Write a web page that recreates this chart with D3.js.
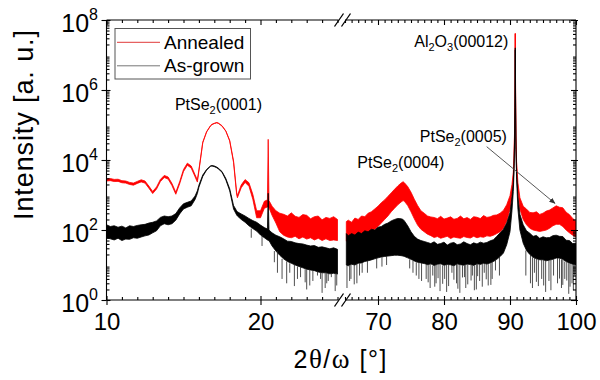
<!DOCTYPE html>
<html>
<head>
<meta charset="utf-8">
<script src="https://cdn.jsdelivr.net/npm/d3@7"></script>
<style>
  html, body { margin: 0; padding: 0; background: #fff; }
  svg { display: block; }
  text { font-family: "Liberation Sans", Arial, sans-serif; fill: #000; }
</style>
</head>
<body>
<svg id="chart" width="600" height="380"></svg>
<script>
// 2θ/ω scan positions (degrees); low-angle window 10–25°, high-angle window 65–100°
const twoTheta = [
  10.00, 10.25, 10.50, 10.75, 11.00, 11.25, 11.50, 11.75, 12.00, 12.25, 12.50, 12.75,
  13.00, 13.25, 13.50, 13.75, 14.00, 14.25, 14.50, 14.75, 15.00, 15.25, 15.50, 15.75,
  15.90, 16.00, 16.25, 16.50, 16.75, 16.85, 17.00, 17.15, 17.25, 17.50, 17.75, 18.00,
  18.25, 18.45, 18.50, 18.75, 19.00, 19.25, 19.50, 19.75, 20.00, 20.25, 20.45, 20.50,
  20.55, 20.75, 21.00, 21.25, 21.50, 21.75, 22.00, 22.25, 22.50, 22.75, 23.00, 23.25,
  23.50, 23.75, 24.00, 24.25, 24.50, 24.75, 25.00,
  65.2, 65.5, 66.0, 66.5, 67.0, 67.5, 68.0, 68.5, 69.0, 69.5, 70.0, 70.5, 71.0, 71.5,
  72.0, 72.5, 73.0, 73.5, 73.8, 74.0, 74.5, 75.0, 75.5, 76.0, 76.5, 77.0, 77.5, 78.0,
  78.5, 79.0, 79.5, 80.0, 80.5, 81.0, 81.5, 82.0, 82.5, 83.0, 83.5, 84.0, 84.5, 85.0,
  85.5, 86.0, 86.5, 87.0, 87.5, 88.0, 88.5, 89.0, 89.5, 90.0, 90.3, 90.5, 90.6, 90.7,
  90.75, 90.8, 90.85, 90.9, 91.0, 91.2, 91.5, 92.0, 92.5, 93.0, 93.5, 94.0, 94.5, 95.0,
  95.5, 96.0, 96.5, 97.0, 97.5, 98.0, 98.5, 99.0, 99.5, 100.0
];

// Annealed film: upper and lower edge of the counting-noise band (counts)
const annealedUpper = [
  2880, 2950, 2790, 2820, 2570, 2510, 2290, 2190, 2450, 2720, 2510, 1800,
  1260, 1700, 2790, 3630, 3270, 2140, 1200, 2400, 5370, 8130, 6760, 3800,
  2690, 5250, 32400, 64600, 95500, 105000, 112000, 117500, 115000, 95500, 67600, 36300,
  9330, 1200, 955, 1950, 2750, 2240, 1050, 355, 355, 661, 724, 38900,
  692, 479, 355, 302, 281, 251, 309, 247, 229, 275, 263, 209,
  240, 251, 195, 229, 214, 240, 200,
  174, 191, 166, 219, 200, 251, 240, 302, 331, 398, 479, 603, 724, 912,
  1150, 1450, 1820, 2190, 2400, 2240, 1740, 1200, 759, 501, 355, 302, 251, 236,
  228, 211, 246, 205, 219, 238, 203, 214, 250, 209, 226, 201, 240, 231,
  212, 258, 229, 238, 262, 270, 302, 363, 525, 955, 2000, 4470, 11200, 79400,
  631000, 42000000, 631000, 50100, 8910, 2240, 832, 479, 395, 318, 309, 331, 279, 302,
  347, 372, 427, 490, 447, 432, 324, 275, 214, 178
];
const annealedLower = [
  2510, 2570, 2430, 2450, 2240, 2190, 2000, 1910, 2140, 2370, 2190, 1570,
  1100, 1480, 2430, 3160, 2850, 1860, 1050, 2090, 4680, 7080, 5890, 3310,
  2340, 4790, 30900, 63100, 93300, 102000, 110000, 115000, 112000, 93300, 66100, 34700,
  8510, 1050, 832, 1620, 2290, 1780, 759, 224, 224, 417, 457, 447,
  437, 263, 158, 89, 71, 63, 60, 66, 56, 63, 55, 60,
  52, 58, 50, 56, 50, 52, 50,
  48, 52, 52, 58, 60, 63, 69, 79, 89, 105, 126, 158, 200, 251,
  331, 417, 525, 631, 692, 661, 501, 331, 209, 138, 105, 89, 76, 69,
  61, 65, 58, 62, 66, 57, 63, 60, 58, 65, 61, 59, 66, 60,
  64, 62, 68, 66, 71, 79, 89, 112, 178, 398, 1000, 2820, 7940, 63100,
  562000, 40000000, 562000, 39800, 6310, 1260, 398, 200, 141, 112, 100, 95, 91, 95,
  100, 112, 132, 145, 145, 126, 100, 83, 71, 63
];

// As-grown film: upper and lower edge of the counting-noise band (counts)
const asGrownUpper = [
  141, 126, 132, 120, 129, 115, 132, 126, 135, 141, 145, 158,
  166, 182, 229, 251, 240, 251, 295, 427, 562, 617, 676, 933,
  1320, 1910, 3720, 5370, 6760, 6920, 6760, 6310, 5890, 4680, 2950, 1510,
  501, 355, 331, 288, 251, 214, 186, 166, 138, 117, 107, 1120,
  100, 83, 71, 64, 56, 48, 47, 43, 41, 40, 37, 35,
  36, 32, 33, 31, 29, 31, 28,
  79, 69, 79, 72, 87, 79, 95, 89, 105, 100, 120, 126, 145, 158,
  182, 200, 214, 209, 200, 182, 132, 89, 66, 55, 50, 47, 44, 41,
  46, 39, 41, 45, 37, 42, 44, 38, 40, 46, 41, 38, 43, 40,
  45, 42, 44, 49, 53, 66, 83, 105, 158, 316, 891, 2240, 6310, 39800,
  316000, 16000000, 316000, 25100, 4470, 891, 282, 141, 95, 81, 66, 70, 58, 64,
  60, 61, 69, 71, 66, 65, 51, 50, 41, 42
];
const asGrownLower = [
  60, 56, 52, 58, 50, 55, 54, 60, 58, 63, 68, 72,
  83, 95, 132, 151, 141, 151, 191, 288, 398, 447, 490, 741,
  1100, 1660, 3390, 5130, 6610, 6760, 6460, 6030, 5620, 4470, 2690, 1320,
  398, 269, 251, 200, 166, 132, 110, 93, 72, 60, 52, 50,
  50, 35, 25, 19, 15, 12.6, 11.2, 10, 9.1, 8.3, 7.6, 7.2,
  6.9, 6.3, 6.0, 6.0, 5.6, 5.8, 5.5,
  10, 9.5, 10.5, 10, 11.2, 11.5, 12.6, 13.2, 14, 15, 16, 17, 17.5, 18,
  18.5, 19, 19, 18.5, 18, 17.5, 16, 14.5, 13, 12, 11.5, 11, 10.2, 10.8,
  9.6, 10.5, 10.9, 9.8, 10.4, 10.1, 9.5, 10.8, 10.2, 9.9, 10.6, 10.3, 9.7, 10.9,
  10.4, 11.2, 10.6, 11.5, 12.6, 14.5, 17.4, 21.9, 38, 89, 355, 1260, 3980, 31600,
  251000, 14000000, 251000, 20000, 2820, 398, 100, 42, 26, 20, 16.6, 15.1, 14.1, 14.1,
  13.2, 13.8, 14.5, 15.8, 15.8, 14.5, 12.6, 11.5, 10.5, 10
];

// Deepest single-channel drops of the as-grown scan (angle, counts)
const asGrownDipAngle = [
  19.4, 20.1, 20.9, 21.1, 21.4, 21.7, 21.9, 22.2, 22.4, 22.6, 22.9, 23.0, 23.2, 23.4,
  23.7, 23.9, 24.0, 24.2, 24.3, 24.4, 24.6, 24.85, 24.95,
  65.3, 65.7, 65.9, 66.4, 66.8, 67.2, 67.6, 68.4, 69.8, 70.6, 71.3, 74.8, 75.3, 75.8,
  76.2, 76.6, 77.3, 77.6, 77.9, 78.3, 78.6, 78.8, 79.1, 79.4, 79.8, 80.1, 80.4, 80.7,
  81.2, 81.5, 81.9, 82.1, 82.4, 82.8, 83.1, 83.3, 83.6, 84.1, 84.3, 84.6, 84.9, 85.1,
  85.4, 85.8, 86.1, 86.4, 86.7, 87.1, 87.3, 87.8, 88.4,
  92.4, 93.1, 93.4, 93.7, 94.0, 94.3, 94.8, 95.1, 95.4, 95.9, 96.2, 96.6, 97.2, 97.5,
  97.8, 98.0, 98.3, 98.6, 98.9, 99.1, 99.4, 99.6, 99.8
];
const asGrownDipValue = [
  60, 35, 12, 6, 4, 3, 6, 2.5, 4, 4.5, 3.2, 2, 2.6, 3.5,
  5, 4, 1.6, 2.2, 3, 3.5, 4.5, 1.8, 2.6,
  2.2, 3.5, 4, 2.8, 3, 5, 6, 6, 8, 9, 10, 8, 6, 5,
  4, 3.5, 4, 3.2, 2.2, 5, 2.4, 3, 4.2, 1.8, 2.9, 4, 1.7, 2.5,
  6, 3.8, 3, 2.1, 1.6, 4.4, 4.5, 2.2, 2.8, 3.6, 5, 1.9, 2, 4.8,
  3.5, 2.4, 6, 3.9, 2.6, 2.7, 4, 7, 5,
  5, 3, 2.2, 6, 3.3, 2.5, 4, 2.6, 1.7, 3.5, 1.9, 5, 3, 4.1,
  2.2, 2.7, 4, 3.6, 1.5, 2.4, 3, 1.9, 5
];

const seriesNames = ["Annealed", "As-grown"];
const seriesColors = ["#ff0000", "#000000"];

const lowAngleTicks = [10, 20];
const highAngleTicks = [70, 80, 90, 100];
const intensityTicks = [1, 1e2, 1e4, 1e6, 1e8];

// Peak annotations: label parts [text, isSubscript], anchor angle and intensity
const peakLabels = [
  { parts: [["PtSe", 0], ["2", 1], ["(0001)", 0]], angle: 17.27, counts: 2.7e5, anchor: "middle" },
  { parts: [["PtSe", 0], ["2", 1], ["(0004)", 0]], angle: 73.45, counts: 5.9e3, anchor: "middle" },
  { parts: [["PtSe", 0], ["2", 1], ["(0005)", 0]], angle: 82.93, counts: 3.3e4, anchor: "middle" },
  { parts: [["Al", 0], ["2", 1], ["O", 0], ["3", 1], ["(00012)", 0]], angle: 89.75, counts: 1.7e7, anchor: "end" }
];
// Arrow from the (0005) label down to its weak reflection
const arrowFrom = { angle: 86.47, counts: 2.4e4 };
const arrowTo = { angle: 96.82, counts: 575 };

// ---------------------------------------------------------------------------
const svg = d3.select("#chart");
const plotTop = 20, plotBottom = 300, plotLeft = 106.5, plotRight = 576;

const xLow = d3.scaleLinear().domain([10, 25]).range([plotLeft, 337.5]);
const xHigh = d3.scaleLinear().domain([65, 100]).range([345, plotRight]);
const y = d3.scaleLog().domain([1, 1e8]).range([plotBottom, plotTop]);

const segments = [
  { scale: xLow, lo: 10, hi: 25, major: lowAngleTicks,
    minor: d3.range(11, 26).filter(v => v % 10 !== 0) },
  { scale: xHigh, lo: 65, hi: 100, major: highAngleTicks,
    minor: d3.range(65, 100).filter(v => v % 10 !== 0) }
];
const xOf = a => (a <= 25 ? xLow(a) : xHigh(a));

svg.append("defs").append("clipPath").attr("id", "plotClip")
  .append("rect").attr("x", plotLeft).attr("y", plotTop - 2)
  .attr("width", plotRight - plotLeft).attr("height", plotBottom - plotTop + 2);

const plot = svg.append("g").attr("clip-path", "url(#plotClip)");

const series = [
  { upper: annealedUpper, lower: annealedLower, color: seriesColors[0] },
  { upper: asGrownUpper, lower: asGrownLower, color: seriesColors[1] }
];

series.forEach(s => {
  segments.forEach(seg => {
    const idx = d3.range(twoTheta.length).filter(i => twoTheta[i] >= seg.lo && twoTheta[i] <= seg.hi);
    const band = d3.area()
      .x(i => seg.scale(twoTheta[i]))
      .y0(i => y(s.lower[i]))
      .y1(i => y(s.upper[i]));
    plot.append("path").datum(idx)
      .attr("d", band)
      .attr("fill", s.color)
      .attr("stroke", s.color)
      .attr("stroke-width", 0.8)
      .attr("stroke-linejoin", "round");
  });
});

// single-channel drops of the as-grown trace
const nearest = d3.bisector(d => d).center;
plot.append("g").selectAll("line")
  .data(d3.range(asGrownDipAngle.length))
  .join("line")
  .attr("x1", i => xOf(asGrownDipAngle[i]))
  .attr("x2", i => xOf(asGrownDipAngle[i]))
  .attr("y1", i => y(asGrownLower[nearest(twoTheta, asGrownDipAngle[i])]))
  .attr("y2", i => y(asGrownDipValue[i]))
  .attr("stroke", "#222")
  .attr("stroke-width", 0.8);

// ---------------------------------------------------------------------------
// Frame with axis break
const frame = svg.append("g").attr("stroke", "#000").attr("stroke-width", 1.1).attr("fill", "none");
frame.append("line").attr("x1", plotLeft).attr("x2", plotLeft).attr("y1", plotTop).attr("y2", plotBottom);
frame.append("line").attr("x1", plotRight).attr("x2", plotRight).attr("y1", plotTop).attr("y2", plotBottom);
[plotTop, plotBottom].forEach(yy => {
  frame.append("line").attr("x1", plotLeft).attr("x2", xLow.range()[1] + 1).attr("y1", yy).attr("y2", yy);
  frame.append("line").attr("x1", xHigh.range()[0]).attr("x2", plotRight).attr("y1", yy).attr("y2", yy);
  [339, 346].forEach(cx => {
    frame.append("line").attr("x1", cx - 4.5).attr("y1", yy + 6.5)
      .attr("x2", cx + 4.5).attr("y2", yy - 6.5).attr("stroke-width", 1.3);
  });
});

function styleAxis(g) {
  g.select(".domain").remove();
  g.selectAll(".tick line").attr("stroke", "#000").attr("stroke-width", 1.1);
}

// x axes
segments.forEach(seg => {
  svg.append("g").attr("transform", `translate(0,${plotBottom})`)
    .call(d3.axisBottom(seg.scale).tickValues(seg.major).tickSize(5).tickPadding(8))
    .call(styleAxis)
    .call(g => g.selectAll(".tick text").attr("font-size", 24)
      .attr("font-family", "'Liberation Sans', Arial, sans-serif").attr("fill", "#000"));
  svg.append("g").attr("transform", `translate(0,${plotBottom})`)
    .call(d3.axisBottom(seg.scale).tickValues(seg.major).tickSize(-4).tickFormat(""))
    .call(styleAxis);
  svg.append("g").attr("transform", `translate(0,${plotBottom})`)
    .call(d3.axisBottom(seg.scale).tickValues(seg.minor).tickSize(-3).tickFormat(""))
    .call(styleAxis);
  svg.append("g").attr("transform", `translate(0,${plotTop})`)
    .call(d3.axisTop(seg.scale).tickValues(seg.major).tickSize(-5).tickFormat(""))
    .call(styleAxis);
  svg.append("g").attr("transform", `translate(0,${plotTop})`)
    .call(d3.axisTop(seg.scale).tickValues(seg.minor).tickSize(-3).tickFormat(""))
    .call(styleAxis);
});

// y axes
const minorIntensity = d3.range(0, 8).flatMap(d => d3.range(2, 10).map(k => k * Math.pow(10, d)));

svg.append("g").attr("transform", `translate(${plotLeft},0)`)
  .call(d3.axisLeft(y).tickValues(intensityTicks).tickSize(5).tickPadding(3.5).tickFormat(""))
  .call(styleAxis)
  .call(g => g.selectAll(".tick text").each(function (d) {
    const t = d3.select(this).attr("dy", "0.46em").attr("font-size", 25)
      .attr("font-family", "'Liberation Sans', Arial, sans-serif").attr("fill", "#000");
    t.append("tspan").text("10");
    t.append("tspan").attr("font-size", 16).attr("dy", -12).text(Math.round(Math.log10(d)));
  }));
svg.append("g").attr("transform", `translate(${plotLeft},0)`)
  .call(d3.axisLeft(y).tickValues(intensityTicks).tickSize(-4).tickFormat(""))
  .call(styleAxis);
svg.append("g").attr("transform", `translate(${plotLeft},0)`)
  .call(d3.axisLeft(y).tickValues(minorIntensity).tickSize(-3).tickFormat(""))
  .call(styleAxis);
svg.append("g").attr("transform", `translate(${plotRight},0)`)
  .call(d3.axisRight(y).tickValues(intensityTicks).tickSize(-5).tickFormat(""))
  .call(styleAxis);
svg.append("g").attr("transform", `translate(${plotRight},0)`)
  .call(d3.axisRight(y).tickValues(intensityTicks).tickSize(2).tickFormat(""))
  .call(styleAxis);
svg.append("g").attr("transform", `translate(${plotRight},0)`)
  .call(d3.axisRight(y).tickValues(minorIntensity).tickSize(-3).tickFormat(""))
  .call(styleAxis);

// axis titles
svg.append("text")
  .attr("transform", "translate(33,125) rotate(-90)")
  .attr("text-anchor", "middle").attr("font-size", 27)
  .attr("textLength", 190).attr("lengthAdjust", "spacing")
  .text("Intensity [a. u.]");

const xTitle = svg.append("text").attr("x", 340).attr("y", 368)
  .attr("text-anchor", "middle").attr("font-size", 25)
  .attr("textLength", 93).attr("lengthAdjust", "spacing");
xTitle.append("tspan").text("2");
xTitle.append("tspan").attr("font-family", "'Liberation Serif', 'Times New Roman', serif").attr("font-size", 27).text("θ");
xTitle.append("tspan").text("/");
xTitle.append("tspan").attr("font-family", "'Liberation Serif', 'Times New Roman', serif").attr("font-size", 27).text("ω");
xTitle.append("tspan").text(" [°]");

// peak labels
peakLabels.forEach(p => {
  const t = svg.append("text")
    .attr("x", xOf(p.angle)).attr("y", y(p.counts))
    .attr("text-anchor", p.anchor).attr("font-size", 16);
  let shifted = false;
  p.parts.forEach(([txt, sub]) => {
    const ts = t.append("tspan").text(txt);
    if (sub && !shifted) { ts.attr("font-size", 11).attr("dy", 4); shifted = true; }
    else if (!sub && shifted) { ts.attr("dy", -4); shifted = false; }
    else if (sub) { ts.attr("font-size", 11); }
  });
});

// arrow
svg.append("defs").append("marker")
  .attr("id", "arrowHead").attr("viewBox", "0 0 10 10")
  .attr("refX", 9).attr("refY", 5)
  .attr("markerWidth", 7).attr("markerHeight", 7)
  .attr("orient", "auto-start-reverse")
  .append("path").attr("d", "M0,1 L10,5 L0,9 Z").attr("fill", "#333");
svg.append("line")
  .attr("x1", xOf(arrowFrom.angle)).attr("y1", y(arrowFrom.counts))
  .attr("x2", xOf(arrowTo.angle)).attr("y2", y(arrowTo.counts))
  .attr("stroke", "#444").attr("stroke-width", 0.9)
  .attr("marker-end", "url(#arrowHead)");

// legend
const legend = svg.append("g");
legend.append("rect").attr("x", 115).attr("y", 28.5).attr("width", 135.5).attr("height", 50.5)
  .attr("fill", "#fff").attr("stroke", "#555").attr("stroke-width", 1);
const legendLine = ["#e03a3a", "#777"];
seriesNames.forEach((name, i) => {
  const cy = 42.3 + i * 23.5;
  legend.append("line").attr("x1", 117).attr("x2", 160).attr("y1", cy).attr("y2", cy)
    .attr("stroke", legendLine[i]).attr("stroke-width", 1);
  legend.append("text").attr("x", 164).attr("y", cy + 6.6).attr("font-size", 19).text(name);
});
</script>
</body>
</html>
